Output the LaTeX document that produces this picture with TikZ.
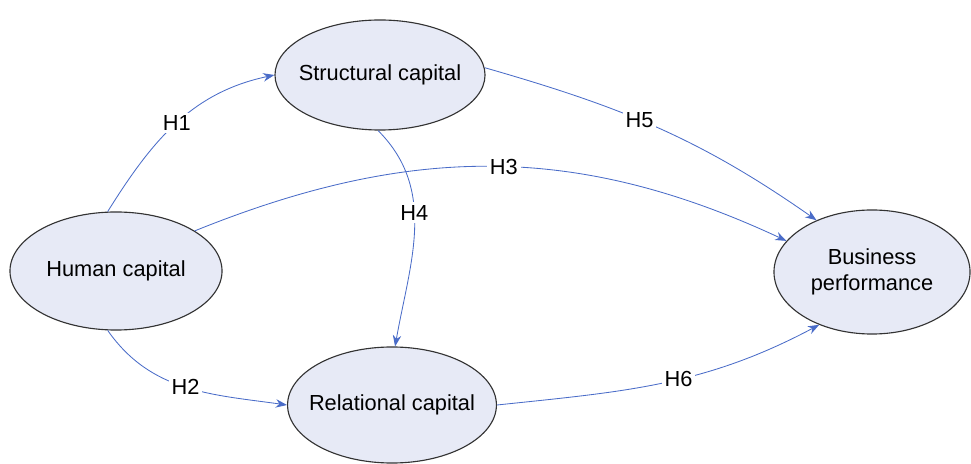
\documentclass[tikz,border=0pt]{standalone}
\usepackage{fontspec}
\setmainfont{Liberation Sans}
\usetikzlibrary{shapes,arrows.meta,positioning}
\definecolor{capfill}{HTML}{E7EAF6}
\definecolor{hypblue}{HTML}{4A6CC8}

\begin{document}
\begin{tikzpicture}[x=0.025cm, y=-0.025cm,
        every node/.style={font=\fontsize{15.5}{18}\selectfont},
        capital/.style={ellipse, draw=black!80, thick, fill=capfill, inner xsep=-0.3cm, inner ysep=0pt, align=center},
        hyp/.style={hypblue, semithick, -{Stealth[length=8pt,width=6pt]}},
        lbl/.style={fill=white, text=black, inner sep=2pt}]
                \useasboundingbox (0,0) rectangle (971,464);
                \node[capital, minimum width=5.25cm, minimum height=2.75cm] (S) at (380,75) {Structural capital};
                \node[capital, minimum width=5.3cm, minimum height=2.95cm] (H) at (116,271) {Human capital};
                \node[capital, minimum width=5.22cm, minimum height=2.9cm] (R) at (392,405) {Relational capital};
                \node[capital, minimum width=4.9cm, minimum height=3.1cm] (B) at (872,272) {Business\\performance};
                
                % hypotheses
                \draw[hyp] (H.98) to[out=58, in=192] node[lbl, pos=0.5] {H1} (S.west);
                \draw[hyp] (H.-98) to[out=-55, in=172] node[lbl] {H2} (R.west);
                \draw[hyp] (H.27) to[out=22, in=155] node[lbl, pos=0.52] {H3} (B.160);
                \draw[hyp] (S.-92) to[out=-45, in=80] node[lbl, pos=0.42] {H4} (R.87);
                \draw[hyp] (S.4) to[out=-16, in=145] node[lbl, pos=0.44] {H5} (B.137);
                \draw[hyp] (R.east) to[out=6, in=208] node[lbl, pos=0.55] {H6} (B.-135);
            \end{tikzpicture}
\end{document}
